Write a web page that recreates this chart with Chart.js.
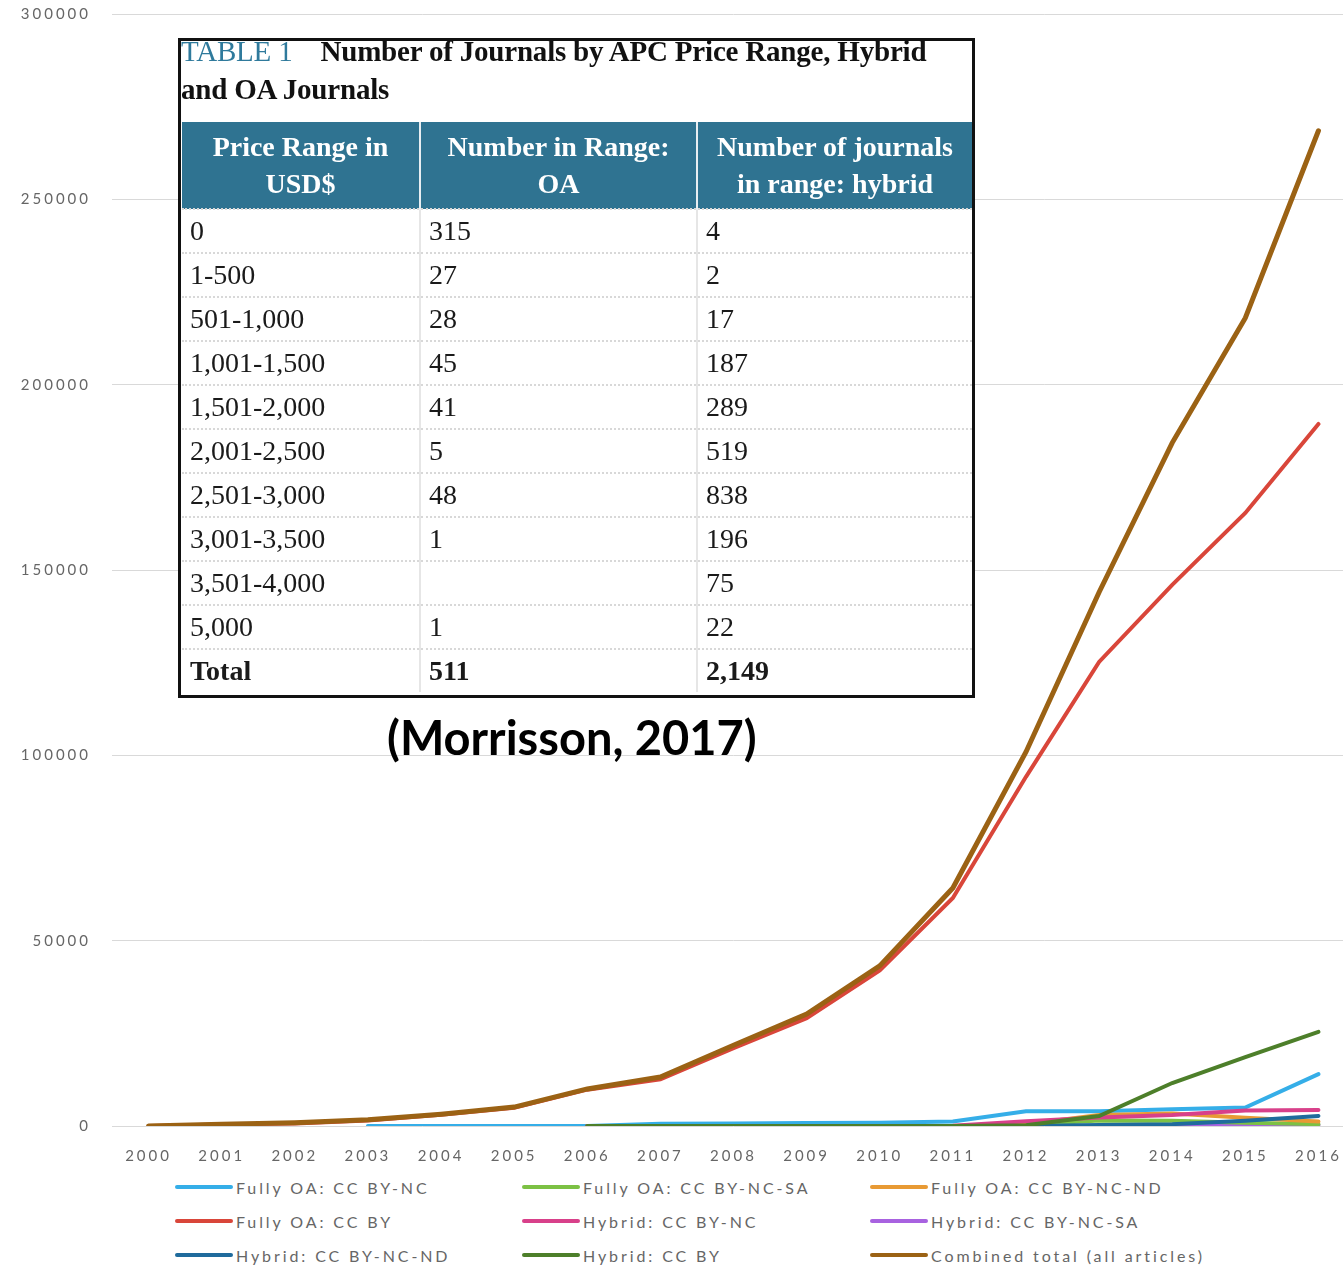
<!DOCTYPE html>
<html>
<head>
<meta charset="utf-8">
<script src="https://cdn.jsdelivr.net/npm/chart.js@4"></script>
<style>
  body { margin: 0; background: #fff; }
  #page { position: relative; width: 1343px; height: 1265px; overflow: hidden; background: #fff; }
  #chartBox { position: absolute; left: 0; top: -16px; width: 1355px; height: 1186px; }
  #legend { position: absolute; left: 175px; top: 1174px; width: 1150px;
    display: grid; grid-template-columns: 347px 348px 348px; row-gap: 8px;
    font-family: Lato, sans-serif; font-size: 16px; letter-spacing: 2.9px; color: #666; }
  #legend .item { display: flex; align-items: center; height: 26px; white-space: nowrap; }
  #legend .swatch { width: 58px; height: 4px; border-radius: 2px; margin-right: 3px; }
  #inset { position: absolute; left: 178px; top: 38px; width: 791px; height: 654px;
    border: 3px solid #111; background: #fff; }
  #inset .title { font-family: "Liberation Serif", serif; font-weight: bold; font-size: 29px;
    line-height: 38px; color: #111; padding: 0 0 0 0; margin-top: -9px; letter-spacing: -0.2px; }
  #inset .title .tag { color: #2f7a9c; font-weight: normal; margin-right: 28px; }
  #inset table { position: absolute; left: 1px; top: 81px; width: 790px; border-collapse: collapse;
    font-family: "Liberation Serif", serif; font-size: 28px; color: #1a1a1a; }
  #inset th { background: #2f7391; color: #fff; font-weight: bold; height: 86px; line-height: 37px;
    text-align: center; border-right: 2px solid #e8eef2; padding: 0; }
  #inset th:last-child { border-right: none; }
  #inset td { height: 42px; padding: 0 0 0 8px; border-top: 2px dotted #d8d8d8;
    border-right: 2px solid #e6e6e6; }
  #inset td:last-child { border-right: none; }
  #inset tr.total td { font-weight: bold; }
  #cite { position: absolute; left: 387px; top: 709px; font-family: Lato, sans-serif;
    font-weight: bold; font-size: 47px; color: #000; }
</style>
</head>
<body>
<div id="page">
  <div id="chartBox"><canvas id="chart" width="1355" height="1186"></canvas></div>
  <div id="inset">
    <div class="title"><span class="tag">TABLE 1</span>Number of Journals by APC Price Range, Hybrid<br>and OA Journals</div>
    <table id="priceTable"></table>
  </div>
  <div id="cite">(Morrisson, 2017)</div>
  <div id="legend"></div>
</div>
<script>
// x axis categories
const years = ['2000', '2001', '2002', '2003', '2004', '2005', '2006', '2007', '2008',
  '2009', '2010', '2011', '2012', '2013', '2014', '2015', '2016'];

// series values (articles)
const fullyOaCcByNc   = [null, null, null, 0, 0, 0, 0, 600, 700, 800, 900, 1200, 4000, 4000, 4500, 5000, 14000];
const fullyOaCcByNcSa = [null, null, null, null, null, null, 0, 0, 0, 0, 0, 0, 300, 1500, 1400, 900, 500];
const fullyOaCcByNcNd = [null, null, null, null, null, null, 0, 0, 0, 0, 0, 0, 500, 3000, 3400, 2200, 1200];
const fullyOaCcBy     = [0, 400, 700, 1500, 3000, 4900, 9800, 12600, 21000, 29100, 42000, 61500, 94200, 125200, 146000, 165400, 189400];
const hybridCcByNc    = [null, null, null, null, null, null, 0, 0, 0, 0, 0, 100, 1300, 2300, 3000, 4200, 4300];
const hybridCcByNcSa  = [null, null, null, null, null, null, 0, 0, 0, 0, 0, 0, 0, 0, 0, 0, 300];
const hybridCcByNcNd  = [null, null, null, null, null, null, 0, 0, 0, 0, 0, 0, 0, 300, 500, 1400, 2700];
const hybridCcBy      = [null, null, null, null, null, null, 0, 0, 0, 0, 0, 0, 200, 2700, 11600, 18600, 25400];
const combinedTotal   = [0, 500, 900, 1700, 3200, 5100, 10000, 13200, 21800, 30200, 43200, 64200, 100900, 144000, 184300, 218000, 268500];

// y axis ticks
const yMax = 300000;
const yStep = 50000;

// inset table text
const tableHead = ['Price Range in<br>USD$', 'Number in Range:<br>OA', 'Number of journals<br>in range: hybrid'];
const priceRanges = ['0', '1-500', '501-1,000', '1,001-1,500', '1,501-2,000', '2,001-2,500',
  '2,501-3,000', '3,001-3,500', '3,501-4,000', '5,000', 'Total'];
const oaCounts = ['315', '27', '28', '45', '41', '5', '48', '1', '', '1', '511'];
const hybridCounts = ['4', '2', '17', '187', '289', '519', '838', '196', '75', '22', '2,149'];

// build the inset table
const tbl = document.getElementById('priceTable');
let html = '<colgroup><col style="width:238px"><col style="width:277px"><col style="width:275px"></colgroup>';
html += '<tr>' + tableHead.map(h => `<th>${h}</th>`).join('') + '</tr>';
priceRanges.forEach((p, i) => {
  const cls = p === 'Total' ? ' class="total"' : '';
  html += `<tr${cls}><td>${p}</td><td>${oaCounts[i]}</td><td>${hybridCounts[i]}</td></tr>`;
});
tbl.innerHTML = html;

// datasets in legend order; "order" controls what is drawn on top
const datasets = [
  { label: 'Fully OA: CC BY-NC', data: fullyOaCcByNc, borderColor: '#35aee8', order: 6 },
  { label: 'Fully OA: CC BY-NC-SA', data: fullyOaCcByNcSa, borderColor: '#7cc144', order: 7 },
  { label: 'Fully OA: CC BY-NC-ND', data: fullyOaCcByNcNd, borderColor: '#e89a34', order: 5 },
  { label: 'Fully OA: CC BY', data: fullyOaCcBy, borderColor: '#d9463a', order: 2 },
  { label: 'Hybrid: CC BY-NC', data: hybridCcByNc, borderColor: '#d8408a', order: 3 },
  { label: 'Hybrid: CC BY-NC-SA', data: hybridCcByNcSa, borderColor: '#a862e0', order: 8 },
  { label: 'Hybrid: CC BY-NC-ND', data: hybridCcByNcNd, borderColor: '#1f6b9c', order: 4 },
  { label: 'Hybrid: CC BY', data: hybridCcBy, borderColor: '#4d7f2a', order: 1 },
  { label: 'Combined total (all articles)', data: combinedTotal, borderColor: '#9b6214', order: 0, borderWidth: 5 }
];

// letter spacing for the axis text (the canvas api has no option for it in Chart.js)
const spacedText = {
  id: 'spacedText',
  beforeDraw: (chart) => { chart.ctx.letterSpacing = '3px'; }
};

const chart = new Chart(document.getElementById('chart'), {
  type: 'line',
  data: {
    labels: years,
    datasets: datasets.map(d => ({
      ...d,
      borderWidth: d.borderWidth || 4,
      pointRadius: 0,
      tension: 0,
      fill: false,
      borderCapStyle: 'round'
    }))
  },
  options: {
    responsive: false,
    animation: false,
    layout: { padding: { top: 14, left: 0, right: 0, bottom: 0 } },
    plugins: { legend: { display: false }, tooltip: { enabled: false } },
    scales: {
      x: {
        offset: true,
        grid: { display: false },
        border: { display: false },
        ticks: { color: '#666', font: { family: 'Lato', size: 15 }, padding: 13,
          maxRotation: 0, autoSkip: false },
        afterFit: (s) => { s.height = 44; }
      },
      y: {
        min: 0,
        max: yMax,
        grid: { color: '#d9d9d9', lineWidth: 1, drawTicks: false },
        border: { display: false },
        ticks: { stepSize: yStep, color: '#666', font: { family: 'Lato', size: 15 }, padding: 21,
          callback: (v) => String(v) },
        afterFit: (s) => { s.width = 112; }
      }
    }
  },
  plugins: [spacedText]
});

// html legend, three columns like the original
const legendEl = document.getElementById('legend');
datasets.forEach(d => {
  const item = document.createElement('div');
  item.className = 'item';
  item.innerHTML = `<span class="swatch" style="background:${d.borderColor}"></span><span>${d.label}</span>`;
  legendEl.appendChild(item);
});
</script>
</body>
</html>
